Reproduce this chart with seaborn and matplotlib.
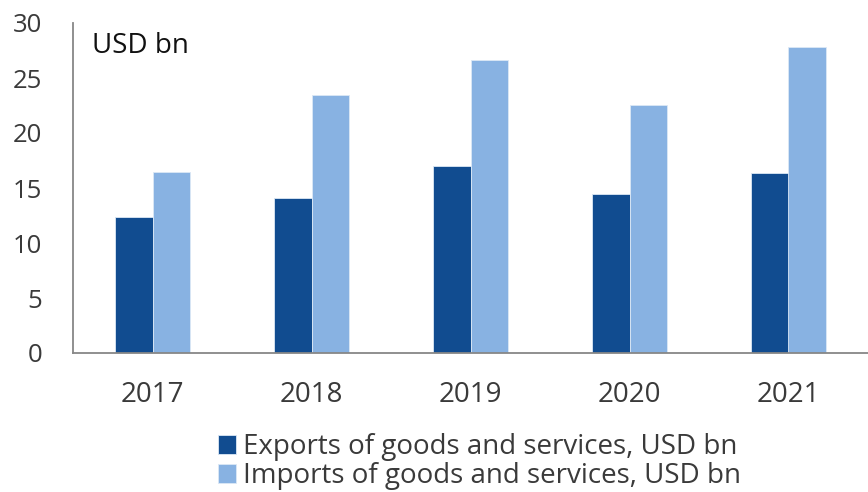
import matplotlib
matplotlib.use("Agg")
import matplotlib.pyplot as plt
import seaborn as sns
import pandas as pd
from matplotlib.ticker import FixedLocator, MultipleLocator

years = ["2017", "2018", "2019", "2020", "2021"]
exports = [12.4, 14.1, 17.0, 14.5, 16.4]
imports = [16.5, 23.45, 26.6, 22.55, 27.8]
series_names = ["Exports of goods and services, USD bn",
                "Imports of goods and services, USD bn"]
colors = ["#114C90", "#88B2E2"]

df = pd.DataFrame({
    "year": years * 2,
    "value": exports + imports,
    "series": [series_names[0]] * len(years) + [series_names[1]] * len(years),
})

sns.set_theme(style="white")
plt.rcParams["font.family"] = ["Open Sans", "DejaVu Sans"]

fig = plt.figure(figsize=(8.68, 4.92), dpi=100)
ax = fig.add_axes([73 / 868, 1 - 353 / 492, 1 - 73 / 868, (353 - 23) / 492])

sns.barplot(data=df, x="year", y="value", hue="series", palette=colors,
            width=0.47, ax=ax, edgecolor="#DCE8F5", linewidth=0.6,
            saturation=1, legend=True)

ax.set_xlim(-0.5, 4.5)
ax.set_ylim(0, 30)
ax.yaxis.set_major_locator(MultipleLocator(5))
ax.set_xlabel("")
ax.set_ylabel("")

for side in ["top", "right"]:
    ax.spines[side].set_visible(False)
for side in ["left", "bottom"]:
    ax.spines[side].set_color("#878787")
    ax.spines[side].set_linewidth(1.3)

ax.tick_params(axis="y", which="major", direction="out", length=9, width=1.3,
               color="#878787", labelsize=18.5, labelcolor="#3A3A3A", pad=13)
ax.tick_params(axis="x", which="major", length=0, labelsize=20,
               labelcolor="#3A3A3A", pad=20)
ax.xaxis.set_minor_locator(FixedLocator([-0.5, 0.5, 1.5, 2.5, 3.5, 4.5]))
ax.tick_params(axis="x", which="minor", direction="out", length=10, width=1.3,
               color="#878787")

ax.text(0.024, 0.93, "USD bn", transform=ax.transAxes,
        fontsize=20, color="#111111", ha="left", va="center")

handles, labels = ax.get_legend_handles_labels()
ax.get_legend().remove()
fig.legend(handles, labels, loc="upper left",
           bbox_to_anchor=(207 / 868, 1 - 422 / 492),
           frameon=False, fontsize=20, labelcolor="#3A3A3A",
           handlelength=0.65, handleheight=0.65, handletextpad=0.25,
           labelspacing=0.05, borderaxespad=0)

fig.savefig("out.png", dpi=100)
